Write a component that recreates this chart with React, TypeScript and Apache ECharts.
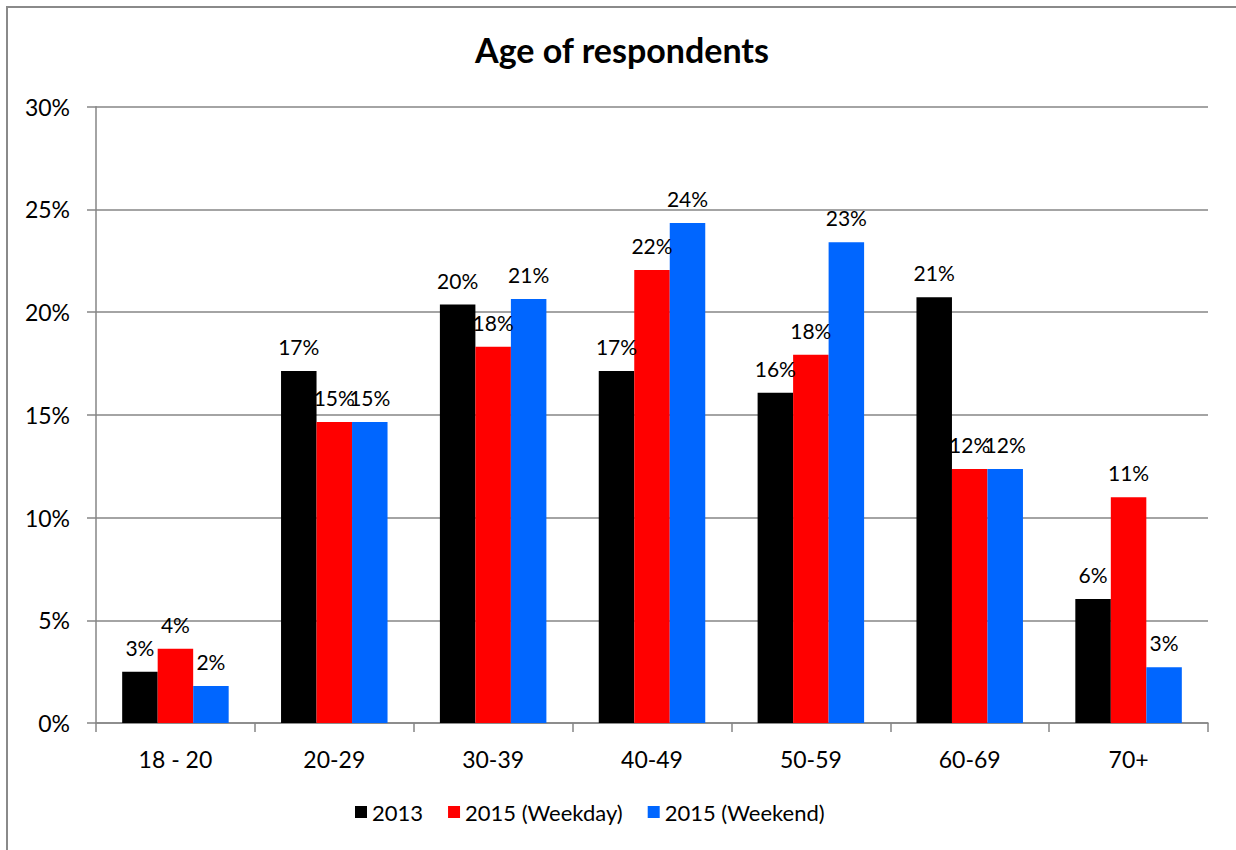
import React, { useEffect, useRef } from "react";
import * as echarts from "echarts";

const categories = ["18 - 20", "20-29", "30-39", "40-49", "50-59", "60-69", "70+"];
const seriesNames = ["2013", "2015 (Weekday)", "2015 (Weekend)"];
const values2013 = [2.5, 17.14, 20.37, 17.14, 16.07, 20.72, 6.04];
const valuesWeekday = [3.62, 14.65, 18.32, 22.05, 17.92, 12.37, 10.99];
const valuesWeekend = [1.8, 14.65, 20.64, 24.34, 23.4, 12.37, 2.71];
const colors = ["#000000", "#FF0000", "#0066FF"];
const yTicks = [0, 5, 10, 15, 20, 25, 30];

const FONT = "Lato, 'Open Sans', sans-serif";

export default function App() {
  const ref = useRef<HTMLDivElement>(null);
  useEffect(() => {
    if (!ref.current) return;
    const chart = echarts.init(ref.current, null, { renderer: "svg" });
    const data = [values2013, valuesWeekday, valuesWeekend];
    chart.setOption({
      animation: false,
      backgroundColor: "#ffffff",
      textStyle: { fontFamily: FONT },
      title: {
        text: "Age of respondents",
        left: 622,
        top: 32,
        padding: 0,
        textAlign: "center",
        textStyle: { fontFamily: FONT, fontSize: 34, fontWeight: "bold", color: "#000" },
      },
      graphic: [
        {
          type: "rect",
          shape: { x: 7, y: 7, width: 1260, height: 870 },
          style: { fill: "none", stroke: "#8a8a8a", lineWidth: 2 },
          silent: true,
        },
      ],
      legend: {
        data: seriesNames,
        bottom: 22,
        left: 350,
        itemWidth: 12,
        itemHeight: 12,
        itemGap: 25,
        icon: "rect",
        textStyle: { fontFamily: FONT, fontSize: 22, color: "#000" },
      },
      grid: { left: 96, right: 28, top: 106.7, bottom: 127, containLabel: false },
      xAxis: {
        type: "category",
        data: categories,
        axisLine: { lineStyle: { color: "#868686", width: 1.5 } },
        axisTick: { show: true, length: 9, lineStyle: { color: "#868686", width: 1.5 } },
        axisLabel: { fontFamily: FONT, fontSize: 23, color: "#000", margin: 24 },
      },
      yAxis: {
        type: "value",
        min: yTicks[0],
        max: yTicks[yTicks.length - 1],
        interval: 5,
        axisLine: { show: true, lineStyle: { color: "#868686", width: 1.5 } },
        axisTick: { show: true, length: 9, lineStyle: { color: "#868686", width: 1.5 } },
        axisLabel: {
          fontFamily: FONT,
          fontSize: 23,
          color: "#000",
          margin: 26,
          formatter: (v: number) => `${v}%`,
        },
        splitLine: { lineStyle: { color: "#868686", width: 1.5 } },
      },
      series: seriesNames.map((name, i) => ({
        name,
        type: "bar",
        data: data[i],
        barWidth: 35.5,
        barGap: "0%",
        itemStyle: { color: colors[i] },
        label: {
          show: true,
          position: "top",
          distance: 14,
          fontFamily: FONT,
          fontSize: 21,
          color: "#000",
          formatter: (p: any) => `${Math.round(p.value)}%`,
        },
      })),
    });
    return () => chart.dispose();
  }, []);
  return (
    <div
      ref={ref}
      style={{ position: "absolute", left: 0, top: 0, width: 1236, height: 850 }}
    />
  );
}
